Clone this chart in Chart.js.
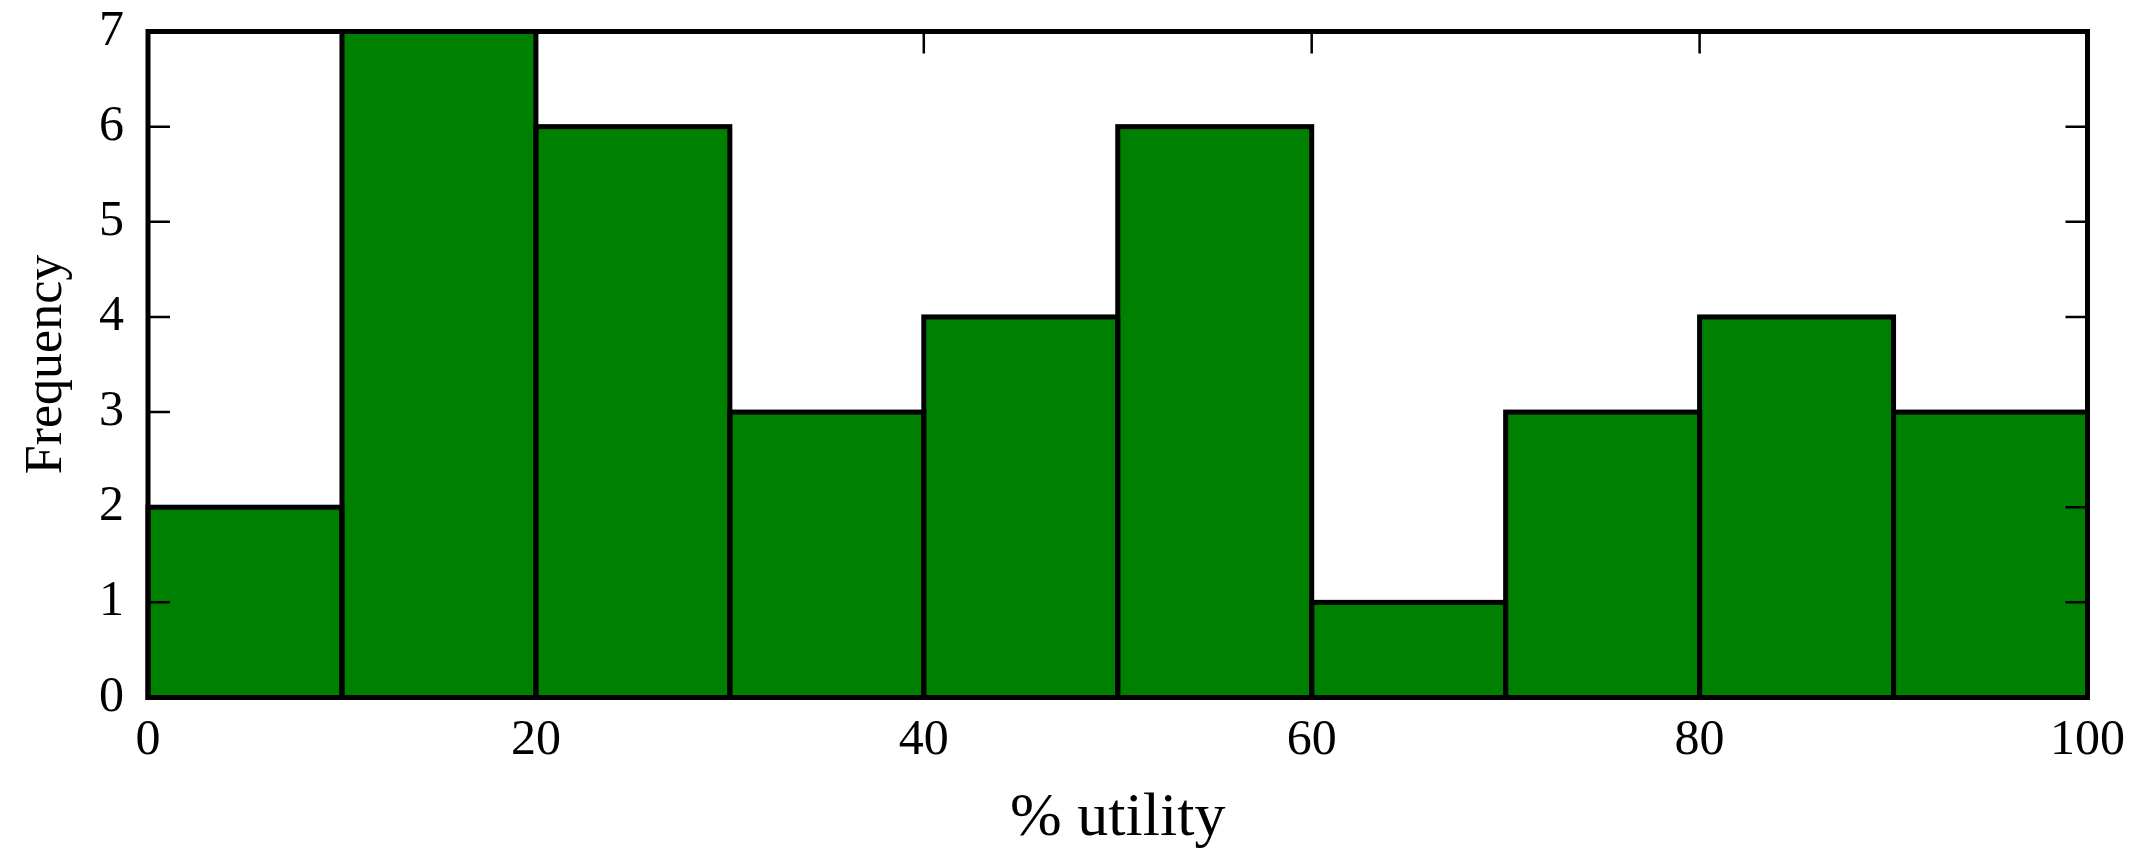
<!DOCTYPE html>
<html>
<head>
<meta charset="utf-8">
<script src="https://cdn.jsdelivr.net/npm/chart.js@4/dist/chart.umd.min.js"></script>
<style>
  html, body { margin: 0; padding: 0; background: #fff; }
  canvas { display: block; }
</style>
</head>
<body>
<canvas id="canvas" width="2143" height="850"></canvas>
<script>
// histogram bins (% utility) and counts
let binStarts = [0, 10, 20, 30, 40, 50, 60, 70, 80, 90];
let binWidth = 10;
let counts = [2, 7, 6, 3, 4, 6, 1, 3, 4, 3];
let xTicks = [0, 20, 40, 60, 80, 100];
let yTicks = [0, 1, 2, 3, 4, 5, 6, 7];

let points = binStarts.map((b, i) => ({ x: b + binWidth / 2, y: counts[i] }));

let serif = 'Liberation Serif';

// outlines bars, frame and inward ticks like the matplotlib original
let framePlugin = {
  id: 'frame',
  afterDatasetsDraw(chart) {
    let ctx = chart.ctx;
    let area = chart.chartArea;
    let xs = chart.scales.x;
    let ys = chart.scales.y;
    ctx.save();
    ctx.strokeStyle = '#000';
    ctx.lineWidth = 5;
    chart.getDatasetMeta(0).data.forEach(bar => {
      let p = bar.getProps(['x', 'y', 'base', 'width'], true);
      ctx.strokeRect(p.x - p.width / 2, p.y, p.width, p.base - p.y);
    });
    ctx.lineWidth = 2.5;
    let tl = 22;
    ctx.beginPath();
    yTicks.forEach(v => {
      let y = ys.getPixelForValue(v);
      ctx.moveTo(area.left, y); ctx.lineTo(area.left + tl, y);
      ctx.moveTo(area.right, y); ctx.lineTo(area.right - tl, y);
    });
    xTicks.forEach(v => {
      let x = xs.getPixelForValue(v);
      ctx.moveTo(x, area.bottom); ctx.lineTo(x, area.bottom - tl);
      ctx.moveTo(x, area.top); ctx.lineTo(x, area.top + tl);
    });
    ctx.stroke();
    ctx.lineWidth = 5;
    ctx.strokeRect(area.left, area.top, area.right - area.left, area.bottom - area.top);
    ctx.restore();
  }
};

let myChart = new Chart(document.getElementById('canvas'), {
  type: 'bar',
  data: {
    datasets: [{
      data: points,
      backgroundColor: '#008000',
      borderWidth: 0,
      barPercentage: 1,
      categoryPercentage: 1
    }]
  },
  options: {
    responsive: false,
    animation: false,
    layout: { padding: { top: 31.5, right: 55.5, left: 0, bottom: 0 } },
    plugins: { legend: { display: false }, tooltip: { enabled: false } },
    scales: {
      x: {
        type: 'linear',
        min: 0,
        max: 100,
        offset: false,
        afterBuildTicks: s => { s.ticks = xTicks.map(v => ({ value: v })); },
        afterFit: s => { s.height = 152.5; s.paddingLeft = 0; s.paddingRight = 0; },
        grid: { display: false, drawTicks: false, offset: false },
        border: { display: false },
        ticks: { color: '#000', padding: 13, maxRotation: 0, font: { family: serif, size: 50 } },
        title: {
          display: true,
          text: '% utility',
          color: '#000',
          padding: { top: 0, bottom: 0 },
          font: { family: serif, size: 62, lineHeight: 1 }
        }
      },
      y: {
        min: 0,
        max: 7,
        afterBuildTicks: s => { s.ticks = yTicks.map(v => ({ value: v })); },
        afterFit: s => { s.width = 148; s.paddingTop = 0; s.paddingBottom = 0; },
        grid: { display: false, drawTicks: false },
        border: { display: false },
        ticks: { color: '#000', padding: 24, font: { family: serif, size: 50 } },
        title: {
          display: true,
          text: 'Frequency',
          color: '#000',
          padding: { top: 21, bottom: 0 },
          font: { family: serif, size: 52, lineHeight: 1 }
        }
      }
    }
  },
  plugins: [framePlugin]
});
</script>
</body>
</html>
